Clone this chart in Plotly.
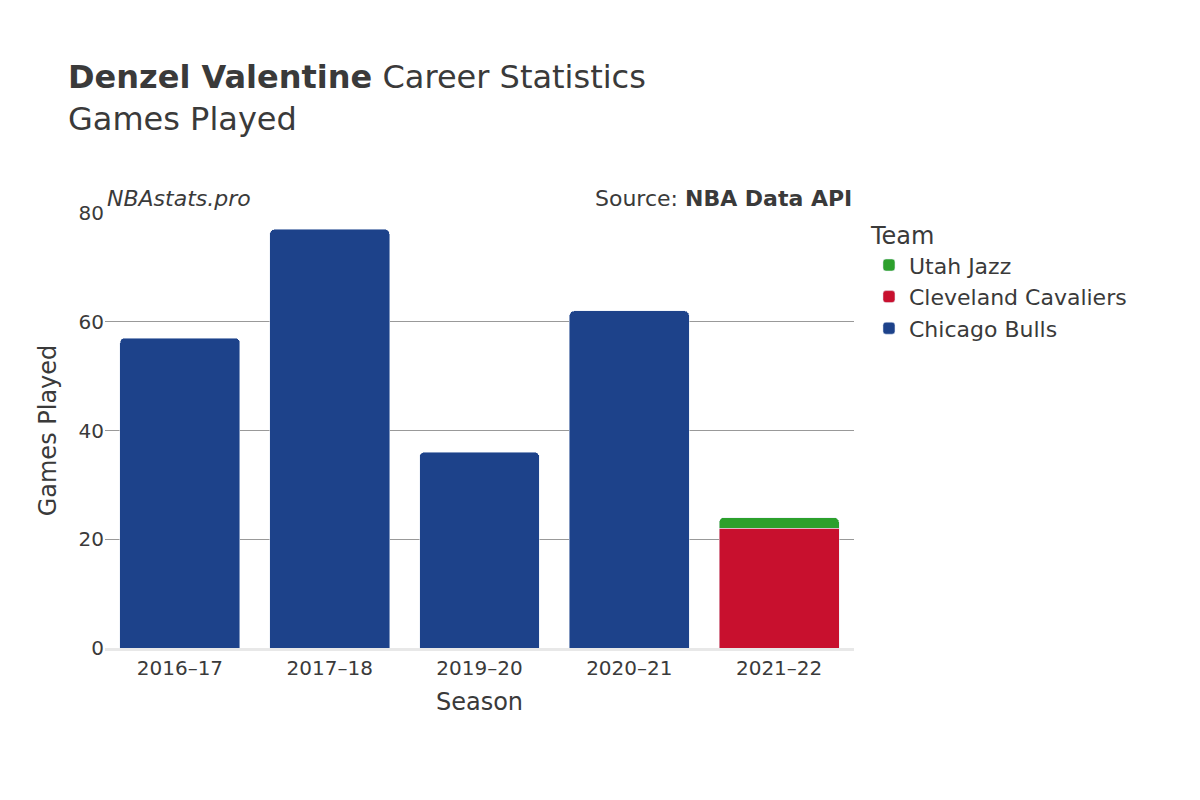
import plotly.graph_objects as go

# Games played per season, split by team
seasons = ["2016–17", "2017–18", "2019–20", "2020–21", "2021–22"]
bulls_seasons = ["2016–17", "2017–18", "2019–20", "2020–21"]
bulls_games = [57, 77, 36, 62]
cavs_seasons = ["2021–22"]
cavs_games = [22]
jazz_seasons = ["2021–22"]
jazz_games = [2]

fig = go.Figure()
fig.add_trace(go.Bar(x=bulls_seasons, y=bulls_games, name="Chicago Bulls", marker_color="#1d428a"))
fig.add_trace(go.Bar(x=cavs_seasons, y=cavs_games, name="Cleveland Cavaliers", marker_color="#c8102e"))
fig.add_trace(go.Bar(x=jazz_seasons, y=jazz_games, name="Utah Jazz", marker_color="#2ca02c"))

fig.update_layout(
    barmode="stack",
    barcornerradius=5,
    bargap=0.2,
    width=1200, height=800,
    font=dict(family="DejaVu Sans", size=20, color="#3a3a3a"),
    plot_bgcolor="white", paper_bgcolor="white",
    margin=dict(l=97, r=354, t=205, b=160),
    title=dict(text="<b>Denzel Valentine</b> Career Statistics<br>Games Played",
               x=0.05, xanchor="left", y=0.9, yanchor="top", font=dict(size=32)),
    legend=dict(title=dict(text="Team", font=dict(size=24)), font=dict(size=22),
                x=1.02, y=1, yanchor="top"),
    xaxis=dict(title=dict(text="Season", font=dict(size=24)), categoryorder="array",
               categoryarray=seasons, showline=True, linecolor="#e8e8e8", linewidth=3),
    yaxis=dict(title=dict(text="Games Played", font=dict(size=24)), range=[0, 80],
               tickvals=[0, 20, 40, 60, 80], gridcolor="#999", zeroline=False),
    annotations=[
        dict(text="<i>NBAstats.pro</i>", xref="paper", yref="paper", x=0, y=1,
             xanchor="left", yanchor="bottom", showarrow=False, font=dict(size=22)),
        dict(text="Source: <b>NBA Data API</b>", xref="paper", yref="paper", x=1, y=1,
             xanchor="right", yanchor="bottom", showarrow=False, font=dict(size=22)),
    ],
)

fig.write_html("out.html")
